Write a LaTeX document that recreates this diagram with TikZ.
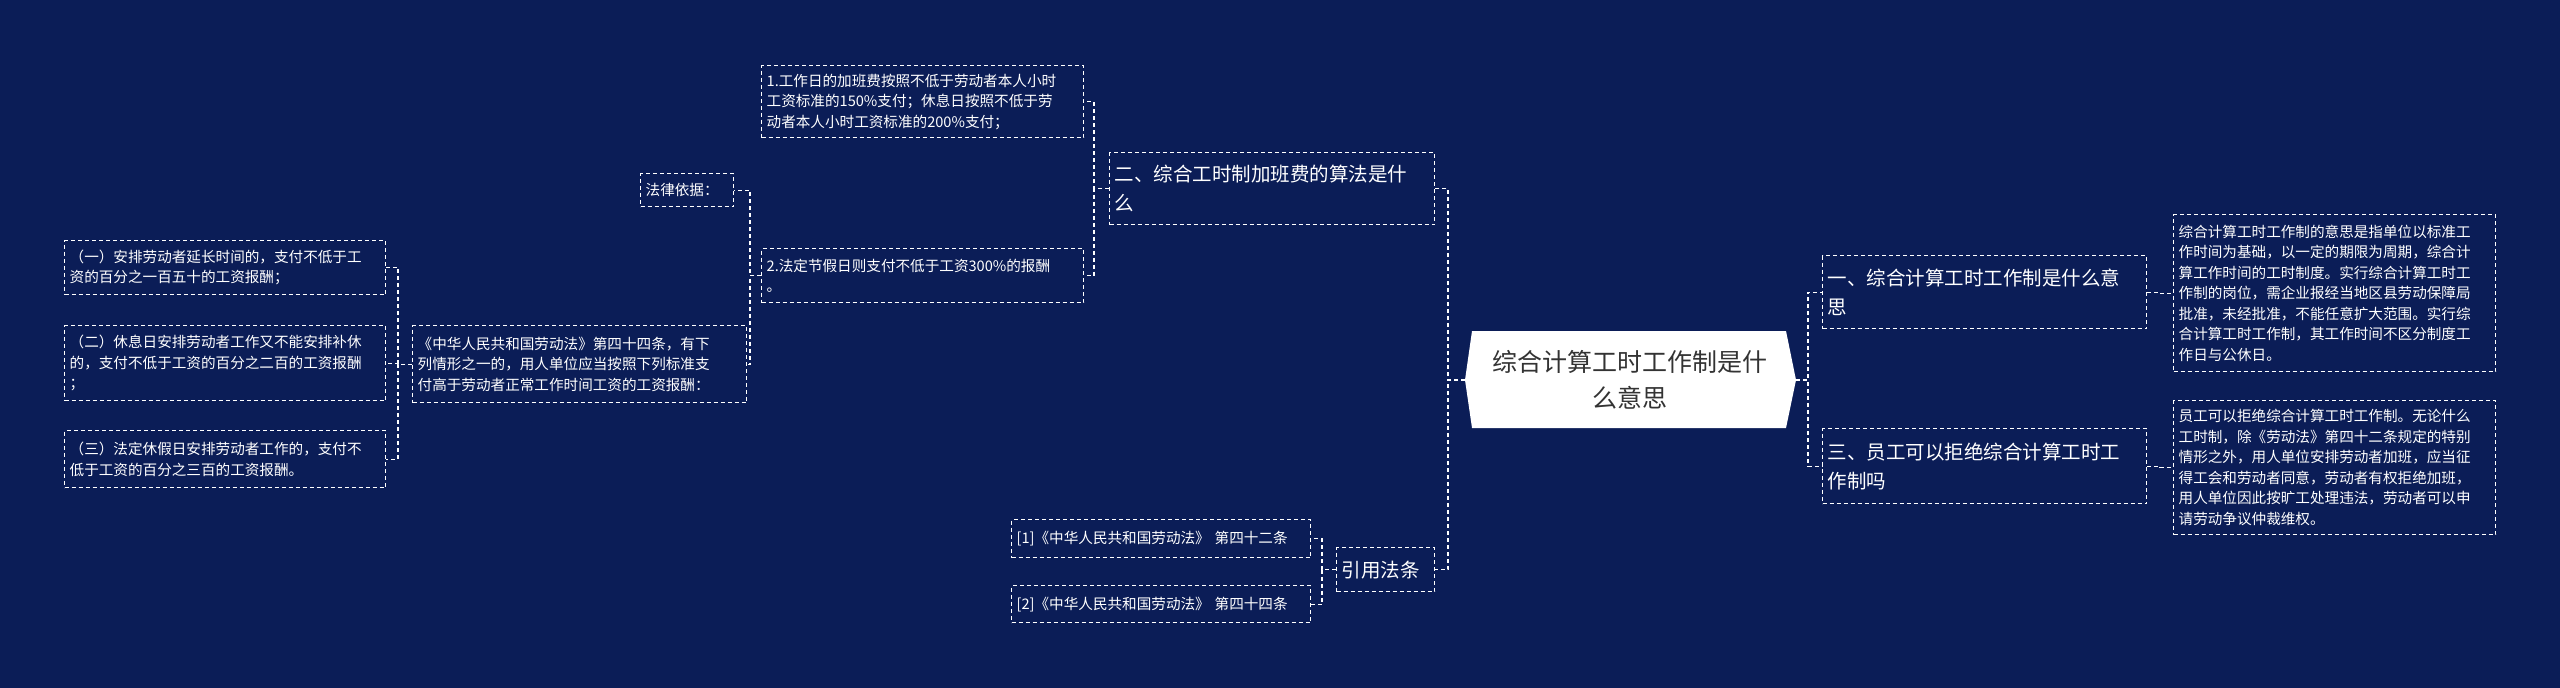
\documentclass[tikz,border=0pt]{standalone}
\usepackage{fontspec}
\setmainfont{Noto Sans CJK SC}
\usetikzlibrary{calc}
\definecolor{bg}{HTML}{0B1D57}
\begin{document}
\begin{tikzpicture}[x=1pt,y=-1pt,
  box/.style={draw=white,line width=1.3pt,dash pattern=on 4pt off 3pt,text=white,align=left,inner sep=5pt,anchor=north west},
  small/.style={box,font=\fontsize{14.6}{20.5}\selectfont},
  mid/.style={box,font=\fontsize{19.5}{29}\selectfont},
  link/.style={draw=white,line width=1.3pt,dash pattern=on 4pt off 3pt}]
\fill[bg] (0,0) rectangle (2560,688);
\useasboundingbox (0,0) rectangle (2560,688);
% center
\fill[white] (1472,331) -- (1786,331) -- (1796,380) -- (1786,428) -- (1472,428) -- (1465,380) -- cycle;
\node[font=\fontsize{25}{36}\selectfont,text=black!80,align=center] (c) at (1630,380) {综合计算工时工作制是什\\么意思};
\coordinate (cw) at (1465,380);
\coordinate (ce) at (1796,380);
% right
\node[mid,text width=314pt,minimum height=73pt] (r1) at (1822,255) {一、综合计算工时工作制是什么意\\思};
\node[mid,text width=314pt,minimum height=75pt] (r3) at (1822,428) {三、员工可以拒绝综合计算工时工\\作制吗};
\node[small,text width=312pt,minimum height=157pt] (d1) at (2173,214) {综合计算工时工作制的意思是指单位以标准工\\作时间为基础，以一定的期限为周期，综合计\\算工作时间的工时制度。实行综合计算工时工\\作制的岗位，需企业报经当地区县劳动保障局\\批准，未经批准，不能任意扩大范围。实行综\\合计算工时工作制，其工作时间不区分制度工\\作日与公休日。};
\node[small,text width=312pt,minimum height=134pt] (d3) at (2173,400) {员工可以拒绝综合计算工时工作制。无论什么\\工时制，除《劳动法》第四十二条规定的特别\\情形之外，用人单位安排劳动者加班，应当征\\得工会和劳动者同意，劳动者有权拒绝加班，\\用人单位因此按旷工处理违法，劳动者可以申\\请劳动争议仲裁维权。};
% left top
\node[mid,text width=315pt,minimum height=72pt] (l2) at (1109,152) {二、综合工时制加班费的算法是什\\么};
\node[small,text width=312pt,minimum height=72pt] (a1) at (761,65) {1.工作日的加班费按照不低于劳动者本人小时\\工资标准的150\%支付；休息日按照不低于劳\\动者本人小时工资标准的200\%支付；};
\node[small,text width=312pt,minimum height=54pt] (a2) at (761,248) {2.法定节假日则支付不低于工资300\%的报酬\\。};
\node[small,text width=83pt,minimum height=33pt] (fl) at (640,173) {法律依据：};
\node[small,text width=324pt,minimum height=77pt] (law) at (412,325) {《中华人民共和国劳动法》第四十四条，有下\\列情形之一的，用人单位应当按照下列标准支\\付高于劳动者正常工作时间工资的工资报酬：};
\node[small,text width=311pt,minimum height=54pt] (b1) at (64,240) {（一）安排劳动者延长时间的，支付不低于工\\资的百分之一百五十的工资报酬；};
\node[small,text width=311pt,minimum height=75pt] (b2) at (64,325) {（二）休息日安排劳动者工作又不能安排补休\\的，支付不低于工资的百分之二百的工资报酬\\；};
\node[small,text width=311pt,minimum height=57pt] (b3) at (64,430) {（三）法定休假日安排劳动者工作的，支付不\\低于工资的百分之三百的工资报酬。};
% bottom
\node[mid,text width=88pt,minimum height=44pt] (yy) at (1336,547) {引用法条};
\node[small,text width=289pt,minimum height=38pt] (y1) at (1011,519) {[1]《中华人民共和国劳动法》 第四十二条};
\node[small,text width=289pt,minimum height=37pt] (y2) at (1011,585) {[2]《中华人民共和国劳动法》 第四十四条};
% links
\coordinate (x1) at (1808,0);
\foreach \n in {r1,r3} \draw[link] (ce) -- (ce -| x1) |- (\n.west);
\coordinate (x2) at (2160,0);
\draw[link] (r1.east) -- (r1.east -| x2) |- (d1.west);
\draw[link] (r3.east) -- (r3.east -| x2) |- (d3.west);
\coordinate (x3) at (1448,0);
\foreach \n in {l2,yy} \draw[link] (cw) -- (cw -| x3) |- (\n.east);
\coordinate (x4) at (1094,0);
\foreach \n in {a1,a2} \draw[link] (l2.west) -- (l2.west -| x4) |- (\n.east);
\coordinate (x5) at (750,0);
\foreach \n in {fl,law} \draw[link] (a2.west) -- (a2.west -| x5) |- (\n.east);
\coordinate (x6) at (398,0);
\foreach \n in {b1,b2,b3} \draw[link] (law.west) -- (law.west -| x6) |- (\n.east);
\coordinate (x7) at (1322,0);
\foreach \n in {y1,y2} \draw[link] (yy.west) -- (yy.west -| x7) |- (\n.east);
\end{tikzpicture}
\end{document}
